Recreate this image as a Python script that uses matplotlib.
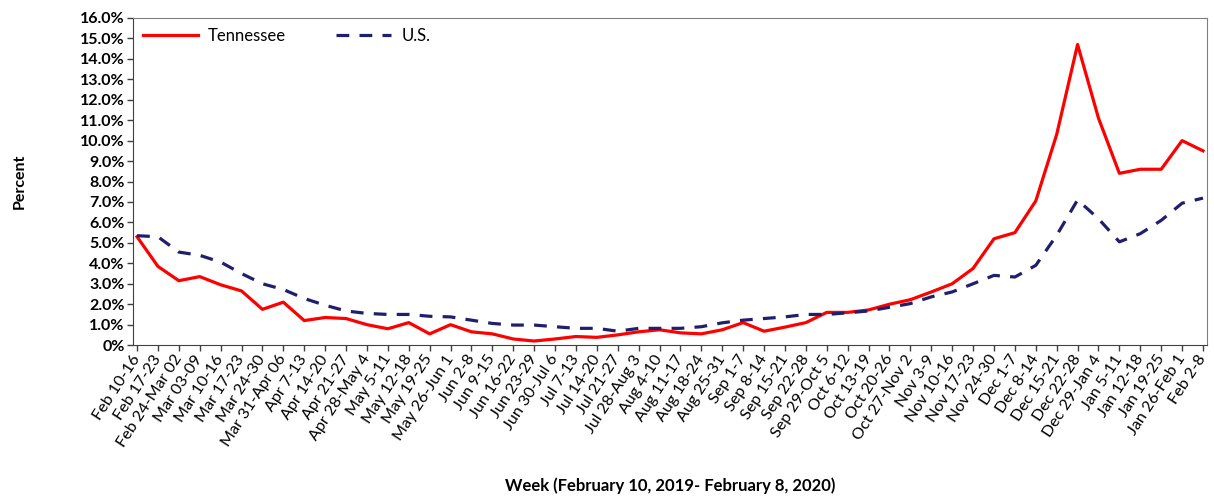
import numpy as np
import matplotlib
matplotlib.use("Agg")
import matplotlib.pyplot as plt
from matplotlib.ticker import FuncFormatter

plt.rcParams['font.family'] = ['Lato', 'DejaVu Sans']

# week labels, Feb 10 2019 - Feb 8 2020
weeks = ["Feb 10-16", "Feb 17-23", "Feb 24-Mar 02", "Mar 03-09", "Mar 10-16",
         "Mar 17-23", "Mar 24-30", "Mar 31-Apr 06", "Apr 7-13", "Apr 14-20",
         "Apr 21-27", "Apr 28-May 4", "May 5-11", "May 12-18", "May 19-25",
         "May 26-Jun 1", "Jun 2-8", "Jun 9-15", "Jun 16-22", "Jun 23-29",
         "Jun 30-Jul 6", "Jul 7-13", "Jul 14-20", "Jul 21-27", "Jul 28-Aug 3",
         "Aug 4-10", "Aug 11-17", "Aug 18-24", "Aug 25-31", "Sep 1-7",
         "Sep 8-14", "Sep 15-21", "Sep 22-28", "Sep 29-Oct 5", "Oct 6-12",
         "Oct 13-19", "Oct 20-26", "Oct 27-Nov 2", "Nov 3-9", "Nov 10-16",
         "Nov 17-23", "Nov 24-30", "Dec 1-7", "Dec 8-14", "Dec 15-21",
         "Dec 22-28", "Dec 29-Jan 4", "Jan 5-11", "Jan 12-18", "Jan 19-25",
         "Jan 26-Feb 1", "Feb 2-8"]

# percent of visits
tennessee = [5.3, 3.85, 3.15, 3.35, 2.95, 2.65, 1.75, 2.1, 1.2, 1.35,
             1.3, 1.0, 0.8, 1.1, 0.55, 1.0, 0.65, 0.55, 0.3, 0.2,
             0.3, 0.42, 0.38, 0.5, 0.65, 0.75, 0.6, 0.55, 0.75, 1.1,
             0.68, 0.88, 1.1, 1.6, 1.6, 1.72, 2.0, 2.22, 2.6, 3.0,
             3.75, 5.2, 5.5, 7.05, 10.3, 14.7, 11.1, 8.4, 8.6, 8.6,
             10.0, 9.5]
us = [5.35, 5.3, 4.55, 4.39, 4.06, 3.5, 3.0, 2.72, 2.28, 1.95,
      1.67, 1.55, 1.5, 1.5, 1.41, 1.38, 1.22, 1.06, 0.98, 0.98,
      0.9, 0.82, 0.82, 0.68, 0.82, 0.82, 0.82, 0.9, 1.09, 1.22,
      1.3, 1.38, 1.5, 1.5, 1.58, 1.67, 1.85, 2.03, 2.36, 2.6,
      3.0, 3.41, 3.33, 3.9, 5.37, 7.1, 6.18, 5.05, 5.45, 6.1,
      6.94, 7.19]

x = np.arange(len(weeks))

fig = plt.figure(figsize=(12.14, 4.98), dpi=100)
ax = fig.add_axes([0.1096, 0.307, 0.8846, 0.657])

ax.plot(x, tennessee, color='#FF0000', lw=2.3, label='Tennessee')
ax.plot(x, us, color='#1F1F6E', lw=2.3, dashes=(4, 3.2), label='U.S.')

ax.set_xlim(-0.19, len(weeks) - 1 + 0.19)
ax.set_ylim(0, 16)
ax.set_yticks(np.arange(0, 17, 1))
ax.yaxis.set_major_formatter(FuncFormatter(lambda v, p: '0%' if v == 0 else '%.1f%%' % v))
ax.set_xticks(x)
ax.set_xticklabels(weeks, rotation=57, ha='right', va='center',
                   rotation_mode='anchor', fontsize=11.6)
for lab in ax.get_yticklabels():
    lab.set_fontsize(11.5)
    lab.set_fontweight('bold')

ax.tick_params(axis='both', direction='out', length=4, width=1, color='#404040', pad=2)
ax.tick_params(axis='x', pad=4)
for s in ['left', 'bottom']:
    ax.spines[s].set_color('#404040')
for s in ['top', 'right']:
    ax.spines[s].set_color('#808080')

ax.set_ylabel('Percent', fontsize=11.5, fontweight='bold')
ax.yaxis.set_label_coords(-0.099, 0.5)
ax.set_xlabel('Week (February 10, 2019- February 8, 2020)', fontsize=12, fontweight='bold')
ax.xaxis.set_label_coords(0.5, -0.405)

ax.legend(loc='upper left', ncol=2, frameon=False, fontsize=12,
          handlelength=3.3, handletextpad=0.6, columnspacing=3.0,
          borderaxespad=0.2, bbox_to_anchor=(0.0, 1.0))

fig.savefig('out.png', dpi=100)
